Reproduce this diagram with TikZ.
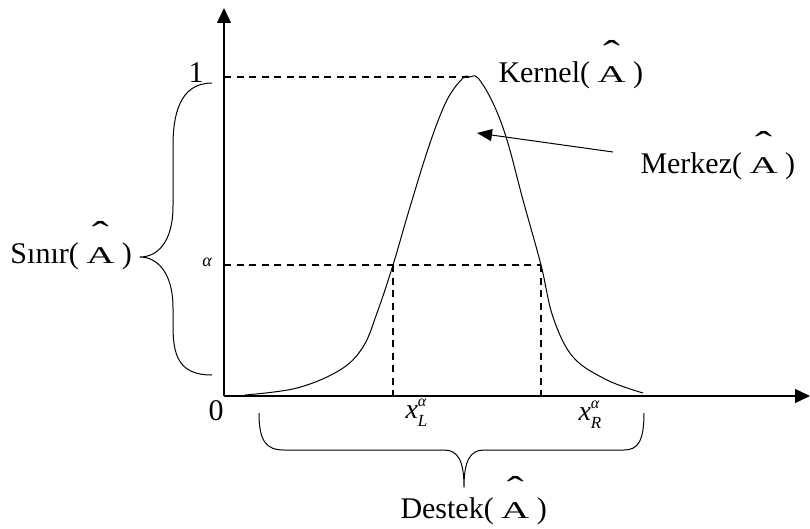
\documentclass[tikz,border=0pt]{standalone}
\usepackage{fontspec}
\setmainfont{Liberation Serif}
\usepackage{graphicx}
\usetikzlibrary{arrows.meta}
\newcommand{\hatA}{\makebox[28pt]{\makebox[0pt]{\raisebox{17pt}{\scalebox{1.7}[1.2]{ˆ}}}\makebox[0pt]{\scalebox{1.3}[0.8]{A}}}}
\newcommand{\xal}[1]{{\itshape x}\rlap{\raisebox{12pt}{\fontsize{16}{16}\selectfont\itshape α}}\raisebox{-8pt}{\fontsize{17}{17}\selectfont\itshape #1}}
\tikzset{lbl/.style={font=\fontsize{30}{36}\selectfont, inner sep=0pt},
	xlbl/.style={font=\fontsize{28}{30}\selectfont, inner sep=0pt, anchor=base west},
	guide/.style={line width=1.5pt, dash pattern=on 7pt off 5.5pt},
	brace/.style={line width=1pt}}
\begin{document}
\begin{tikzpicture}[x=1pt, y=1pt, line width=1pt, line join=round, >={Triangle[length=15pt,width=14pt]}]
	\useasboundingbox (-224,-132) rectangle (586,396);
	\path (0,0) coordinate (O) (0,388) coordinate (Y) (586,0) coordinate (X) %axes
	(0,319) coordinate (one) (246,319) coordinate (P) (0,131) coordinate (al)
	(169,131) coordinate (L) (317,131) coordinate (R) (169,0) coordinate (L0) (317,0) coordinate (R0)
	(253,263) coordinate (M) (389,244) coordinate (Ms);
	\draw[guide] (one)--(P) (al)--(R) (L)--(L0) (R)--(R0);
	\draw plot[smooth, tension=.6] coordinates {(21,1) (73,8) (116,26) (139,49) (153,83) (169,131) (186,189) (206,253) (223,296) (239,318) (246,319) (254,318) (269,293) (283,256) (299,196) (317,131) (329,79) (349,39) (383,16) (419,3)};
	\draw[->, line width=1.4pt] (O)--(Y);
	\draw[->, line width=1.4pt] (O)--(X);
	\draw[-{Triangle[length=15pt,width=12pt]}] (Ms)--(M);
	% braces
	\draw[brace] (-12,313) .. controls (-45,313) and (-51,280) .. (-51,250) -- (-51,190) .. controls (-51,152) and (-68,139) .. (-84,139) .. controls (-68,139) and (-51,125) .. (-51,88) -- (-51,70) .. controls (-51,40) and (-45,21) .. (-12,21);
	\draw[brace] (35,-17) .. controls (35,-45) and (42,-54) .. (60,-54) -- (220,-54) .. controls (234,-54) and (240,-65) .. (240,-91) .. controls (240,-65) and (246,-54) .. (260,-54) -- (400,-54) .. controls (414,-54) and (420,-45) .. (420,-17);
	% labels
	\node[lbl, anchor=base] (n1) at (-28,313) {1};
	\node[lbl, anchor=base] (n0) at (-8,-24) {0};
	\node[inner sep=0pt, anchor=base, font=\fontsize{18}{20}\selectfont\itshape] (na) at (-17,130) {α};
	\node[xlbl] (xl) at (181,-22) {\xal{L}};
	\node[xlbl] (xr) at (354,-24) {\xal{R}};
	\node[lbl, anchor=base west] (kernel) at (274,313) {Kernel( \hatA\ )};
	\node[lbl, anchor=base west] (merkez) at (416,223) {Merkez( \hatA\ )};
	\node[lbl, anchor=base west] (sinir) at (-214,133) {Sınır( \hatA\ )};
	\node[lbl, anchor=base west] (destek) at (176,-122) {Destek( \hatA\ )};
\end{tikzpicture}
\end{document}
